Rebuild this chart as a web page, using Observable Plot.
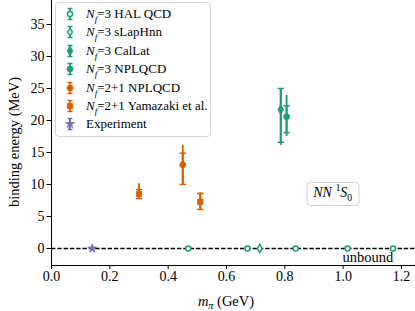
<!DOCTYPE html>
<html><head><meta charset="utf-8">
<script src="https://cdn.jsdelivr.net/npm/d3@7"></script>
<script src="https://cdn.jsdelivr.net/npm/@observablehq/plot@0.6"></script>
<style>
body{margin:0;background:#fff;}
#wrap{position:relative;width:415px;height:311px;font-family:"Liberation Serif",serif;color:#000;overflow:hidden;}
#wrap svg, #wrap svg text{font-family:"Liberation Serif",serif;}
#legend{position:absolute;left:55px;top:2px;width:156px;height:135px;border:1px solid #d6d6d6;border-radius:4px;background:rgba(255,255,255,0.85);box-sizing:border-box;}
.row{position:absolute;left:0;height:18px;display:flex;align-items:center;font-size:13px;white-space:nowrap;}
.row svg{margin-left:8px;margin-right:10px;}
.lab{position:absolute;font-size:14.5px;white-space:nowrap;}
#nnbox{position:absolute;border:1.3px solid #d0d0d0;border-radius:4px;background:#fff;font-size:14px;padding:2px 6px 4px 6px;white-space:nowrap;transform:translate(-50%,-50%);}
sub,sup{font-size:70%;line-height:0;}
</style></head><body><div id="wrap"></div>
<script>
// ---- data (m_pi in GeV, binding energy in MeV) ----
const seriesNames = ["Nf=3 HAL QCD","Nf=3 sLapHnn","Nf=3 CalLat","Nf=3 NPLQCD","Nf=2+1 NPLQCD","Nf=2+1 Yamazaki et al.","Experiment"];
const halMpi = [0.469, 0.672, 0.837, 1.015, 1.171];
const halBE  = [0, 0, 0, 0, 0];
const slapMpi = [0.714];
const slapBE  = [0];
const calMpi = [0.786];
const calBE = [21.7];
const calStatLo = [16.6], calStatHi = [25.0], calTotLo = [16.1], calTotHi = [25.0];
const nplMpi = [0.806];
const nplBE = [20.6];
const nplStatLo = [18.1], nplStatHi = [22.3], nplTotLo = [17.5], nplTotHi = [23.9];
const npl21Mpi = [0.450];
const npl21BE = [13.1];
const npl21StatLo = [10.0], npl21StatHi = [14.9], npl21TotLo = [9.9], npl21TotHi = [16.1];
const yamMpi = [0.300, 0.510];
const yamBE = [8.5, 7.3];
const yamStatLo = [7.8, 6.1], yamStatHi = [9.2, 8.6], yamTotLo = [7.7, 6.1], yamTotHi = [10.1, 8.7];
const expMpi = [0.1396];
const expBE = [0];
const xTicks = [0, 0.2, 0.4, 0.6, 0.8, 1.0, 1.2];
const yTicks = [0, 5, 10, 15, 20, 25, 30, 35];

const green = "#1b9e77", orange = "#d95f02", purple = "#7570b3";
const FONT = '"Liberation Serif", serif';

function pts(m, be, sLo, sHi, tLo, tHi) {
  return m.map((v, i) => ({m: v, be: be[i],
    sLo: sLo ? sLo[i] : null, sHi: sHi ? sHi[i] : null,
    tLo: tLo ? tLo[i] : null, tHi: tHi ? tHi[i] : null}));
}
const series = [
  {name: seriesNames[0], color: green, symbol: "circle", open: true, r: 2.5, data: pts(halMpi, halBE)},
  {name: seriesNames[1], color: green, symbol: "diamond", open: true, r: 2.5, data: pts(slapMpi, slapBE)},
  {name: seriesNames[2], color: green, symbol: "diamond", open: false, r: 3.0, data: pts(calMpi, calBE, calStatLo, calStatHi, calTotLo, calTotHi)},
  {name: seriesNames[3], color: green, symbol: "circle", open: false, r: 3.0, data: pts(nplMpi, nplBE, nplStatLo, nplStatHi, nplTotLo, nplTotHi)},
  {name: seriesNames[4], color: orange, symbol: "circle", open: false, r: 3.0, data: pts(npl21Mpi, npl21BE, npl21StatLo, npl21StatHi, npl21TotLo, npl21TotHi)},
  {name: seriesNames[5], color: orange, symbol: "square", open: false, r: 3.0, data: pts(yamMpi, yamBE, yamStatLo, yamStatHi, yamTotLo, yamTotHi)},
  {name: seriesNames[6], color: purple, symbol: "star", open: false, r: 2.8, data: pts(expMpi, expBE)}
];

const capSymbol = {draw(ctx, size) { const w = Math.sqrt(size / Math.PI); ctx.moveTo(-w, 0); ctx.lineTo(w, 0); }};

const yMin = -2.66, yMax = 38.75;
const marks = [
  Plot.ruleY([0], {stroke: "#000", strokeWidth: 1.3, strokeDasharray: "4.4,1.9"}),
  Plot.ruleX([0], {y1: yMin, y2: yMax, stroke: "#000", strokeWidth: 1}),
  Plot.ruleY([yMin], {x1: 0, x2: 1.248, stroke: "#000", strokeWidth: 1}),
  Plot.axisX({ticks: xTicks, tickFormat: d3.format(".1f"), tickSize: 4, tickPadding: 1.5, label: null, fontSize: 14, fontFamily: FONT}),
  Plot.axisY({ticks: yTicks, tickSize: 4.5, tickPadding: 2.5, label: null, fontSize: 14, fontFamily: FONT}),
  Plot.text(["unbound"], {x: 1.085, y: -1.45, text: d => d, fontSize: 14.5, fontFamily: FONT, fill: "#000"})
];
for (const s of series) {
  const withErr = s.data.filter(d => d.tLo != null);
  if (withErr.length) {
    marks.push(Plot.ruleX(withErr, {x: "m", y1: "tLo", y2: "tHi", stroke: s.color, strokeWidth: 1.9}));
    marks.push(Plot.ruleX(withErr, {x: "m", y1: "sLo", y2: "sHi", stroke: s.color, strokeWidth: 1.9}));
    marks.push(Plot.dot(withErr, {x: "m", y: "sLo", symbol: capSymbol, r: 3.2, stroke: s.color, strokeWidth: 1.5, fill: "none"}));
    marks.push(Plot.dot(withErr, {x: "m", y: "sHi", symbol: capSymbol, r: 3.2, stroke: s.color, strokeWidth: 1.5, fill: "none"}));
  }
  marks.push(Plot.dot(s.data, {x: "m", y: "be", symbol: s.symbol, r: s.r,
    fill: s.open ? "#fff" : s.color, stroke: s.color, strokeWidth: s.open ? 1.5 : 0.8}));
}

const plot = Plot.plot({
  width: 415, height: 311,
  marginLeft: 51, marginRight: 0, marginTop: 0, marginBottom: 46,
  x: {domain: [0, 1.248]},
  y: {domain: [yMin, yMax]},
  style: {fontFamily: FONT, fontSize: "14px", color: "#000", background: "#fff"},
  marks
});
const wrap = document.getElementById("wrap");
wrap.appendChild(plot);
plot.style.position = "absolute"; plot.style.left = "0"; plot.style.top = "0";

const sx = plot.scale("x"), sy = plot.scale("y");

// axis labels
const xl = document.createElement("div");
xl.className = "lab";
xl.innerHTML = '<i>m</i><sub><i>π</i></sub> (GeV)';
xl.style.left = sx.apply(0.6) + "px"; xl.style.top = "301px";
xl.style.transform = "translate(-50%,-50%)";
wrap.appendChild(xl);
const yl = document.createElement("div");
yl.className = "lab";
yl.textContent = "binding energy (MeV)";
yl.style.left = "14px"; yl.style.top = sy.apply(16.6) + "px";
yl.style.transform = "translate(-50%,-50%) rotate(-90deg)";
wrap.appendChild(yl);

// NN 1S0 box
const nn = document.createElement("div");
nn.id = "nnbox";
nn.innerHTML = '<i>NN</i> <sup>1</sup><i>S</i><sub>0</sub>';
nn.style.left = sx.apply(0.966) + "px"; nn.style.top = sy.apply(8.4) + "px";
wrap.appendChild(nn);

// legend
const legend = document.createElement("div");
legend.id = "legend";
const labels = [
  '<i>N<sub>f</sub></i>=3 HAL QCD', '<i>N<sub>f</sub></i>=3 sLapHnn', '<i>N<sub>f</sub></i>=3 CalLat',
  '<i>N<sub>f</sub></i>=3 NPLQCD', '<i>N<sub>f</sub></i>=2+1 NPLQCD', '<i>N<sub>f</sub></i>=2+1 Yamazaki et al.', 'Experiment'];
series.forEach((s, i) => {
  const row = document.createElement("div");
  row.className = "row";
  row.style.top = (2 + i * 18.4) + "px";
  const svg = d3.create("svg").attr("width", 12).attr("height", 16);
  const g = svg.append("g").attr("transform", "translate(6,8)");
  g.append("line").attr("x1", 0).attr("x2", 0).attr("y1", -6).attr("y2", 6).attr("stroke", s.color).attr("stroke-width", 1.8);
  g.append("line").attr("x1", -2.5).attr("x2", 2.5).attr("y1", -5.5).attr("y2", -5.5).attr("stroke", s.color).attr("stroke-width", 1.5);
  g.append("line").attr("x1", -2.5).attr("x2", 2.5).attr("y1", 5.5).attr("y2", 5.5).attr("stroke", s.color).attr("stroke-width", 1.5);
  const symType = {circle: d3.symbolCircle, diamond: d3.symbolDiamond, square: d3.symbolSquare, star: d3.symbolStar}[s.symbol];
  g.append("path").attr("d", d3.symbol(symType, Math.PI * s.r * s.r)())
    .attr("fill", s.open ? "#fff" : s.color).attr("stroke", s.color).attr("stroke-width", s.open ? 1.5 : 0.8);
  row.appendChild(svg.node());
  const t = document.createElement("span");
  t.innerHTML = labels[i];
  row.appendChild(t);
  legend.appendChild(row);
});
wrap.appendChild(legend);
</script></body></html>
